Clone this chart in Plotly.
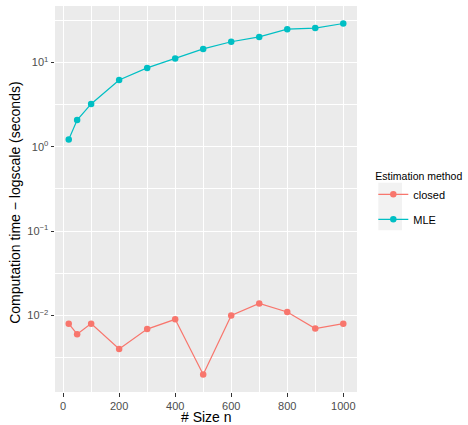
import plotly.graph_objects as go

# ---- data ----
sizes = [20, 50, 100, 200, 300, 400, 500, 600, 700, 800, 900, 1000]
closed_time = [0.0080, 0.0060, 0.0080, 0.0040, 0.0069, 0.0090, 0.0020, 0.0100, 0.0139, 0.0110, 0.0070, 0.0080]
mle_time = [1.22, 2.07, 3.21, 6.18, 8.58, 11.1, 14.4, 17.5, 20.0, 24.7, 25.4, 28.8]

x_tickvals = [0, 200, 400, 600, 800, 1000]
x_ticktext = ["0", "200", "400", "600", "800", "1000"]
x_minor = [100, 300, 500, 700, 900]
y_tickvals = [0.01, 0.1, 1, 10]
y_ticktext = ["10<sup>−2</sup>", "10<sup>−1</sup>", "10<sup>0</sup>", "10<sup>1</sup>"]
y_minor = [10 ** -2.5, 10 ** -1.5, 10 ** -0.5, 10 ** 0.5, 10 ** 1.5]

series_names = ["closed", "MLE"]
series_colors = ["#F8766D", "#00BFC4"]

x_title = "# Size n"
y_title = "Computation time − logscale (seconds)"
legend_title = "Estimation method"

FONT = "Liberation Sans, Arial, Helvetica, sans-serif"

fig = go.Figure()
for name, vals, col in zip(series_names, [closed_time, mle_time], series_colors):
    fig.add_trace(go.Scatter(
        x=sizes, y=vals, name=name, mode="lines+markers",
        line=dict(color=col, width=1.2),
        marker=dict(color=col, size=6.5),
        legendgroup=name,
    ))

fig.update_layout(
    width=468, height=425,
    margin=dict(l=55, r=111.3, t=6, b=33.3, autoexpand=False),
    paper_bgcolor="white",
    plot_bgcolor="#EBEBEB",
    font=dict(family=FONT, color="#000000"),
    showlegend=True,
    legend=dict(
        title=dict(text=legend_title, font=dict(size=10.5, color="#000000")),
        font=dict(size=11, color="#000000"),
        x=1.054, xanchor="left", y=0.585, yanchor="top",
        bgcolor="rgba(0,0,0,0)", itemwidth=30,
        tracegroupgap=6, traceorder="grouped",
    ),
    shapes=[dict(type="rect", xref="paper", yref="paper",
                 x0=1.0706, x1=1.149, y0=0.4192, y1=0.5419,
                 fillcolor="#F2F2F2", line=dict(width=0), layer="below")],
    annotations=[
        dict(text=x_title, xref="paper", yref="paper", x=0.5, y=-0.0656,
             xanchor="center", yanchor="middle", showarrow=False,
             font=dict(size=14, color="#000000", family=FONT)),
        dict(text=y_title, xref="paper", yref="paper", x=-0.1326, y=0.49,
             xanchor="center", yanchor="middle", showarrow=False, textangle=-90,
             font=dict(size=14, color="#000000", family=FONT)),
    ],
)

fig.update_xaxes(
    range=[-29, 1049], automargin=False,
    tickmode="array", tickvals=x_tickvals, ticktext=x_ticktext,
    ticks="outside", ticklen=3.5, tickwidth=1, tickcolor="#333333",
    tickfont=dict(size=11, color="#4D4D4D", family=FONT),
    showgrid=True, gridcolor="white", gridwidth=1.1,
    minor=dict(tickmode="array", tickvals=x_minor, showgrid=True,
               gridcolor="white", gridwidth=0.55, ticklen=0),
    zeroline=False, showline=False,
)
fig.update_yaxes(
    type="log", range=[-2.907, 1.667], automargin=False,
    tickmode="array", tickvals=y_tickvals, ticktext=y_ticktext,
    ticks="outside", ticklen=3.5, tickwidth=1, tickcolor="#333333",
    tickfont=dict(size=11, color="#4D4D4D", family=FONT),
    showgrid=True, gridcolor="white", gridwidth=1.1,
    minor=dict(tickmode="array", tickvals=y_minor, showgrid=True,
               gridcolor="white", gridwidth=0.55, ticklen=0),
    zeroline=False, showline=False,
)

fig.write_html("out.html", config={"displayModeBar": False},
               post_script="document.body.style.margin='0';")
